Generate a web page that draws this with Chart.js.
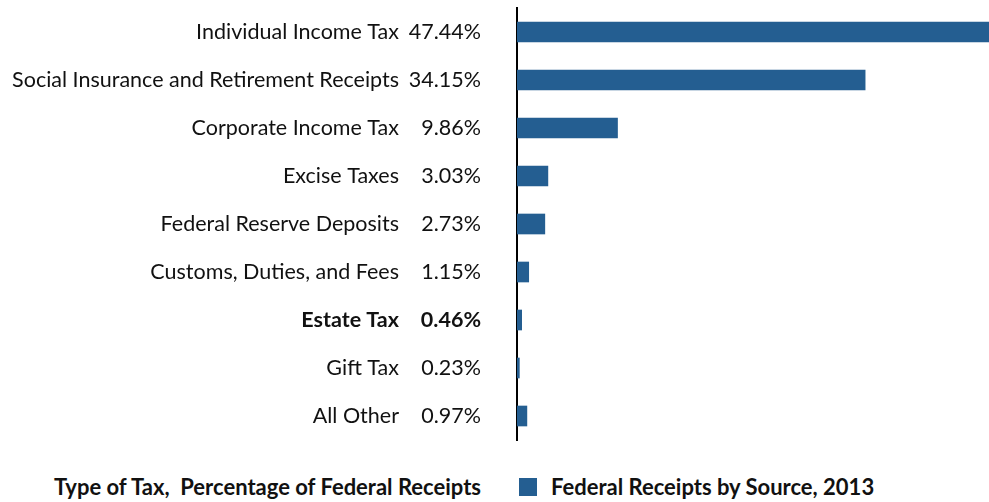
<!DOCTYPE html>
<html>
<head>
<meta charset="utf-8">
<script src="https://cdn.jsdelivr.net/npm/chart.js@4.4.1/dist/chart.umd.min.js"></script>
<style>
  html, body { margin: 0; padding: 0; background: #fff; }
  #wrap { position: relative; width: 989px; height: 502px; font-family: Lato, "Open Sans", sans-serif; }
  #chart { position: absolute; left: 0; top: 0; }
  #axisTitle { position: absolute; right: 508px; top: 472px; font-weight: bold; font-size: 22px; line-height: 30px; color: #111; white-space: pre; }
  #legend { position: absolute; left: 519px; top: 472px; font-weight: bold; font-size: 22px; line-height: 30px; color: #111; white-space: nowrap; }
  #legend i { display: inline-block; width: 18px; height: 18px; vertical-align: -1px; margin-right: 14px; }
</style>
</head>
<body>
<div id="wrap">
  <canvas id="chart" width="989" height="450"></canvas>
  <div id="axisTitle"></div>
  <div id="legend"></div>
</div>
<script>
  const categories = [
    "Individual Income Tax",
    "Social Insurance and Retirement Receipts",
    "Corporate Income Tax",
    "Excise Taxes",
    "Federal Reserve Deposits",
    "Customs, Duties, and Fees",
    "Estate Tax",
    "Gift Tax",
    "All Other",
  ];
  const shares = [47.44, 34.15, 9.86, 3.03, 2.73, 1.15, 0.46, 0.23, 0.97];
  const shareLabels = ["47.44%", "34.15%", "9.86%", "3.03%", "2.73%", "1.15%", "0.46%", "0.23%", "0.97%"];
  const seriesName = "Federal Receipts by Source, 2013";
  const axisTitle = "Type of Tax,  Percentage of Federal Receipts";
  const highlight = "Estate Tax";

  const BAR = "#245e91";
  const FONT = "Lato, 'Open Sans', sans-serif";

  function tickFont(ctx) {
    const bold = categories[ctx.index] === highlight;
    return { family: FONT, size: 21.5, weight: bold ? "bold" : "normal" };
  }

  // tick padding would otherwise be added above/below the plot
  function fixWidth(w) {
    return (s) => {
      s.width = w;
      s.paddingTop = 0;
      s.paddingBottom = 0;
    };
  }

  const chart = new Chart(document.getElementById("chart"), {
    type: "bar",
    data: {
      labels: categories,
      datasets: [{
        label: seriesName,
        data: shares,
        backgroundColor: BAR,
        barThickness: 20,
        yAxisID: "pct",
      }],
    },
    options: {
      indexAxis: "y",
      responsive: false,
      animation: false,
      layout: { autoPadding: false, padding: { top: 8, bottom: 10, left: 0, right: 0 } },
      plugins: { legend: { display: false }, tooltip: { enabled: false } },
      scales: {
        x: { min: 0, max: 46.3, display: false },
        names: {
          type: "category",
          labels: categories,
          position: "left",
          weight: 2,
          grid: { display: false, drawTicks: false },
          border: { display: false },
          ticks: { color: "#111", padding: 6, font: tickFont },
          afterFit: fixWidth(405),
        },
        pct: {
          type: "category",
          labels: shareLabels,
          position: "left",
          weight: 1,
          grid: { display: false, drawTicks: false },
          border: { display: true, color: "#000", width: 2 },
          ticks: { color: "#111", padding: 36, font: tickFont },
          afterFit: fixWidth(112),
        },
      },
    },
  });

  document.getElementById("axisTitle").textContent = axisTitle;
  const ds = chart.data.datasets[0];
  document.getElementById("legend").innerHTML =
    '<i style="background:' + ds.backgroundColor + '"></i>' + ds.label;
</script>
</body>
</html>
